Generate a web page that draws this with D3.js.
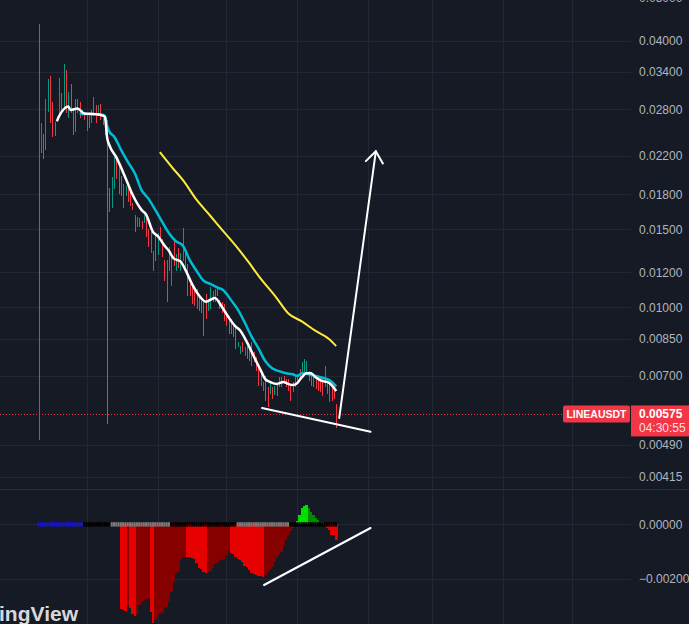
<!DOCTYPE html>
<html><head><meta charset="utf-8">
<script src="https://cdn.jsdelivr.net/npm/d3@7"></script>
<style>html,body{margin:0;padding:0;background:#161a25;overflow:hidden}</style>
</head><body><svg id="c" width="689" height="624"></svg>
<script>
// ---- DATA (daily candles, index 0 = first bar) ----
const open=[0.0227,0.0227,0.0243,0.0233,0.0282,0.0313,0.0276,0.0260,0.0264,0.0271,
0.0300,0.0286,0.0324,0.0276,0.0300,0.0276,0.0254,0.0288,0.0282,0.0271,
0.0275,0.0272,0.0260,0.0265,0.0273,0.0282,0.0272,0.0282,0.0262,0.0260,
0.0247,0.0182,0.0171,0.0189,0.0210,0.0202,0.0195,0.0185,0.0180,0.0185,
0.0180,0.0171,0.0161,0.0154,0.0153,0.0156,0.0156,0.0160,0.0148,0.0135,
0.0133,0.0142,0.0132,0.0150,0.0142,0.0127,0.0125,0.0122,0.0116,0.0139,
0.0122,0.0135,0.0123,0.0130,0.0133,0.0123,0.0112,0.0110,0.0110,0.0108,
0.0106,0.0103,0.0102,0.0106,0.0099,0.0101,0.0104,0.0104,0.0111,0.0104,
0.0103,0.0101,0.00970,0.00950,0.00930,0.00901,0.00890,0.00817,0.00788,0.00826,
0.00780,0.00809,0.00805,0.00796,0.00788,0.00764,0.00737,0.00707,0.00654,0.00689,
0.00654,0.00644,0.00658,0.00638,0.00664,0.00664,0.00668,0.00696,0.00682,0.00682,
0.00661,0.00672,0.00664,0.00679,0.00722,0.00722,0.00725,0.00718,0.00714,0.00707,
0.00700,0.00692,0.00689,0.00689,0.00682,0.00668,0.00679,0.00638,0.00658,0.00648,
0.00602];
const high=[0.0436,0.0261,0.0246,0.0295,0.0327,0.0333,0.0291,0.0262,0.0271,0.0329,
0.0305,0.0355,0.0343,0.0307,0.0320,0.0279,0.0295,0.0296,0.0291,0.0279,
0.0276,0.0275,0.0275,0.0279,0.0298,0.0286,0.0286,0.0288,0.0268,0.0262,
0.0265,0.0186,0.0197,0.0218,0.0216,0.0207,0.0198,0.0190,0.0188,0.0186,
0.0185,0.0172,0.0162,0.0160,0.0159,0.0157,0.0162,0.0162,0.0150,0.0148,
0.0134,0.0146,0.0147,0.0152,0.0143,0.0128,0.0128,0.0137,0.0133,0.0141,
0.0132,0.0136,0.0133,0.0151,0.0134,0.0125,0.0113,0.0111,0.0111,0.0110,
0.0107,0.0104,0.0103,0.0107,0.0104,0.0111,0.0109,0.0110,0.0112,0.0104,
0.0103,0.0102,0.00975,0.00955,0.00940,0.00906,0.00906,0.00835,0.00817,0.00835,
0.00813,0.00817,0.00813,0.00835,0.00792,0.00772,0.00744,0.00714,0.00679,0.00700,
0.00661,0.00679,0.00661,0.00664,0.00672,0.00696,0.00696,0.00700,0.00689,0.00689,
0.00672,0.00679,0.00696,0.00707,0.00725,0.00752,0.00764,0.00757,0.00718,0.00714,
0.00707,0.00700,0.00696,0.00696,0.00689,0.00737,0.00682,0.00679,0.00664,0.00654,
0.00605];
const low=[0.00502,0.0223,0.0216,0.0226,0.0276,0.0261,0.0243,0.0244,0.0262,0.0267,
0.0274,0.0282,0.0275,0.0267,0.0275,0.0245,0.0249,0.0275,0.0268,0.0270,
0.0265,0.0250,0.0254,0.0261,0.0270,0.0261,0.0270,0.0265,0.0258,0.0245,
0.00545,0.0164,0.0168,0.0185,0.0195,0.0180,0.0178,0.0168,0.0178,0.0173,
0.0169,0.0166,0.0148,0.0152,0.0152,0.0150,0.0155,0.0144,0.0137,0.0133,
0.0121,0.0127,0.0131,0.0141,0.0130,0.0115,0.0103,0.0121,0.0112,0.0124,
0.0121,0.0123,0.0121,0.0127,0.0121,0.0106,0.0106,0.0102,0.0101,0.0099,
0.0098,0.0097,0.0086,0.0094,0.0098,0.0099,0.0103,0.0103,0.0106,0.0099,
0.0097,0.00930,0.00906,0.00873,0.00873,0.00856,0.00805,0.00813,0.00784,0.00792,
0.00776,0.00764,0.00757,0.00737,0.00752,0.00718,0.00664,0.00664,0.00648,0.00615,
0.00595,0.00638,0.00621,0.00634,0.00631,0.00661,0.00661,0.00672,0.00661,0.00648,
0.00615,0.00644,0.00661,0.00672,0.00696,0.00714,0.00714,0.00707,0.00682,0.00664,
0.00661,0.00654,0.00648,0.00644,0.00631,0.00661,0.00638,0.00612,0.00615,0.00621,
0.00534];
const close=[0.0258,0.0254,0.0220,0.0286,0.0310,0.0268,0.0249,0.0246,0.0270,0.0302,
0.0276,0.0327,0.0282,0.0297,0.0279,0.0252,0.0286,0.0276,0.0271,0.0276,
0.0268,0.0258,0.0271,0.0273,0.0282,0.0265,0.0279,0.0268,0.0267,0.0247,
0.0175,0.0168,0.0192,0.0210,0.0196,0.0185,0.0181,0.0171,0.0185,0.0175,
0.0171,0.0167,0.0150,0.0159,0.0158,0.0152,0.0160,0.0146,0.0139,0.0145,
0.0122,0.0130,0.0143,0.0142,0.0132,0.0116,0.0110,0.0134,0.0130,0.0127,
0.0130,0.0125,0.0131,0.0142,0.0122,0.0108,0.0107,0.0103,0.0102,0.0101,
0.0099,0.0098,0.0094,0.0096,0.0103,0.0109,0.0107,0.0108,0.0106,0.0100,
0.0098,0.0094,0.00915,0.00884,0.00880,0.00864,0.00822,0.00830,0.00809,0.00800,
0.00805,0.00772,0.00764,0.00752,0.00757,0.00725,0.00675,0.00672,0.00672,0.00628,
0.00621,0.00664,0.00631,0.00658,0.00641,0.00686,0.00689,0.00675,0.00664,0.00654,
0.00628,0.00651,0.00686,0.00700,0.00700,0.00741,0.00748,0.00741,0.00689,0.00675,
0.00668,0.00661,0.00654,0.00651,0.00641,0.00689,0.00648,0.00661,0.00624,0.00628,
0.00575];

// moving averages: [bar index, value]
const maFast=[[8,0.0263],[9,0.0270],[11,0.0280],[13,0.0284],[14,0.0279],[17,0.0281],[20,0.0274],[25,0.0273],[28,0.0271],[29,0.0269],[30,0.0241],[31,0.0232],[34,0.0218],[38,0.0196],[41,0.0180],[45,0.0166],[47,0.0162],[50,0.0148],[52,0.0145],[55,0.0138],[57,0.0134],[59,0.0129],[62,0.0127],[64,0.0122],[67,0.0113],[71,0.0105],[73,0.0103],[77,0.0105],[80,0.01005],[83,0.0095],[86,0.00906],[88,0.00888],[91,0.00835],[93,0.00796],[95,0.00757],[97,0.00722],[99,0.00689],[101,0.00679],[104,0.00672],[107,0.00679],[109,0.00672],[111,0.00668],[113,0.00675],[115,0.00696],[117,0.00710],[119,0.00710],[121,0.00696],[124,0.00682],[126,0.00679],[128,0.00668],[130,0.00648]];
const maSlow=[[18,0.0274],[22,0.0273],[28,0.0272],[29,0.0270],[30,0.0257],[31,0.0249],[33,0.0243],[36,0.0227],[39,0.0213],[42,0.0201],[45,0.0184],[48,0.0176],[51,0.0166],[54,0.0156],[57,0.0147],[60,0.0141],[63,0.0138],[66,0.0128],[69,0.0121],[72,0.0115],[75,0.0113],[78,0.0111],[81,0.0109],[84,0.0104],[87,0.0099],[90,0.00926],[93,0.0086],[96,0.00809],[99,0.00757],[102,0.00729],[105,0.00718],[108,0.00710],[111,0.00707],[113,0.00700],[115,0.00710],[118,0.00707],[121,0.00700],[124,0.00694],[127,0.00686],[130,0.00664]];
const maLong=[[53,0.0224],[59,0.0205],[63,0.0194],[69,0.0175],[75,0.0161],[80,0.0150],[86,0.0138],[92,0.0126],[96,0.0118],[104,0.0105],[109,0.0097],[115,0.0093],[121,0.00885],[127,0.00848],[130,0.00818]];

// squeeze momentum histogram, starting at bar momStart
const momStart=36;
const momentum=[-0.00310,-0.00314,-0.00316,-0.00299,-0.00306,-0.00330,-0.00334,-0.00332,-0.00295,-0.00283,
-0.00280,-0.00272,-0.00268,-0.00320,-0.00361,-0.00350,-0.00332,-0.00330,-0.00326,-0.00308,
-0.00304,-0.00281,-0.00247,-0.00211,-0.00180,-0.00176,-0.00130,-0.00120,-0.00118,-0.00119,
-0.00121,-0.00124,-0.00126,-0.00143,-0.00158,-0.00163,-0.00173,-0.00177,-0.00176,-0.00171,
-0.00159,-0.00145,-0.00141,-0.00131,-0.00129,-0.00127,-0.00112,-0.00097,-0.00104,-0.00108,
-0.00118,-0.00125,-0.00129,-0.00137,-0.00152,-0.00157,-0.00167,-0.00177,-0.00181,-0.00185,
-0.00189,-0.00190,-0.00192,-0.00185,-0.00176,-0.00167,-0.00155,-0.00137,-0.00122,-0.00112,
-0.00100,-0.00076,-0.00057,-0.00039,-0.00024,-0.00014,0.00005,0.00013,0.00034,0.00059,
0.00069,0.00071,0.00061,0.00047,0.00034,0.00022,0.00016,0.00010,0.00007,-0.00002,
-0.00014,-0.00021,-0.00039,-0.00040,-0.00057];
// squeeze state segments: [state, first bar, last bar]
const squeeze=[["none",0,19],["on",20,31],["off",32,57],["on",58,86],["off",87,109],["on",110,130]];

const priceTicks=[0.05,0.04,0.034,0.028,0.022,0.018,0.015,0.012,0.010,0.0085,0.007,0.0049,0.00415];
const momTicks=[0,-0.002];
const monthStarts=[21,52,82,113,144,172,203,233];
const lastPrice=0.00575, symbol="LINEAUSDT", countdown="04:30:55";
// user drawings in (bar index, value)
const trendTop=[[97.6,0.00593],[145,0.00524]];
const arrowPts=[[131.3,0.00563],[147.3,0.0225]];
const trendBottom=[[98.5,-0.00222],[145,-0.000132]];

(function(){
const W=689,H=624,plotR=631,sepY=489;
const svg=d3.select("#c");
svg.append("rect").attr("width",W).attr("height",H).attr("fill","#161a25");
const x=d3.scaleLinear().domain([0,233]).range([38.5,572.1]);
const y=d3.scaleLog().domain([0.04,0.00415]).range([40.6,476.7]);
const ym=d3.scaleLinear().domain([0,-0.002]).range([524.4,579]);
const defs=svg.append("defs");
defs.append("clipPath").attr("id","ct").append("rect").attr("x",0).attr("y",0).attr("width",plotR).attr("height",sepY);
defs.append("clipPath").attr("id","cb").append("rect").attr("x",0).attr("y",sepY+1).attr("width",plotR).attr("height",H-sepY);
const snap=v=>Math.round(v)+0.5;
const gridC="#232734";
svg.append("g").selectAll("line").data(monthStarts).join("line")
 .attr("x1",d=>snap(x(d))).attr("x2",d=>snap(x(d))).attr("y1",0).attr("y2",H)
 .attr("stroke",gridC).attr("stroke-width",1);
svg.append("g").attr("clip-path","url(#ct)").selectAll("line").data(priceTicks).join("line")
 .attr("x1",0).attr("x2",plotR).attr("y1",d=>snap(y(d))).attr("y2",d=>snap(y(d)))
 .attr("stroke",gridC);
svg.append("g").attr("clip-path","url(#cb)").selectAll("line").data(momTicks).join("line")
 .attr("x1",0).attr("x2",plotR).attr("y1",d=>snap(ym(d))).attr("y2",d=>snap(ym(d)))
 .attr("stroke",gridC);
svg.append("line").attr("x1",0).attr("x2",W).attr("y1",sepY+0.5).attr("y2",sepY+0.5).attr("stroke","#2a2e39");

const up="#089981", dn="#f23645";
const topG=svg.append("g").attr("clip-path","url(#ct)");
const cg=topG.append("g").attr("shape-rendering","crispEdges");
close.forEach((c,i)=>{
  const col=c>=open[i]?up:dn, xx=Math.round(x(i));
  const yh=Math.round(y(high[i])), yl=Math.round(y(low[i]));
  cg.append("rect").attr("x",xx).attr("y",yh).attr("width",1).attr("height",Math.max(1,yl-yh)).attr("fill",col);
  const y0=Math.round(Math.min(y(open[i]),y(close[i]))), y1=Math.round(Math.max(y(open[i]),y(close[i])));
  cg.append("rect").attr("x",xx).attr("y",y0).attr("width",1).attr("height",Math.max(1,y1-y0)).attr("fill",col);
});
const ln=d3.line().x(d=>x(d[0])).y(d=>y(d[1])).curve(d3.curveMonotoneX);
topG.append("path").attr("d",ln(maLong)).attr("fill","none").attr("stroke","#ffeb3b").attr("stroke-width",2);
topG.append("path").attr("d",ln(maSlow)).attr("fill","none").attr("stroke","#00bcd4").attr("stroke-width",2.5);
topG.append("path").attr("d",ln(maFast)).attr("fill","none").attr("stroke","#ffffff").attr("stroke-width",2.5);
topG.append("line").attr("x1",0).attr("x2",563).attr("y1",snap(y(lastPrice))).attr("y2",snap(y(lastPrice)))
 .attr("stroke",dn).attr("stroke-width",1).attr("stroke-dasharray","1,2");
const wl=(g,pts,sc)=>g.append("line").attr("x1",x(pts[0][0])).attr("y1",sc(pts[0][1])).attr("x2",x(pts[1][0])).attr("y2",sc(pts[1][1]))
 .attr("stroke","#ffffff").attr("stroke-width",2).attr("stroke-linecap","round");
wl(topG,trendTop,y);
wl(topG,arrowPts,y);
{
 const sx=x(arrowPts[0][0]), sy=y(arrowPts[0][1]), tx=x(arrowPts[1][0]), ty=y(arrowPts[1][1]);
 const L=Math.hypot(sx-tx,sy-ty), ux=(sx-tx)/L, uy=(sy-ty)/L, a=38*Math.PI/180, len=14;
 [a,-a].forEach(t=>{
   const vx=ux*Math.cos(t)-uy*Math.sin(t), vy=ux*Math.sin(t)+uy*Math.cos(t);
   topG.append("line").attr("x1",tx).attr("y1",ty).attr("x2",tx+vx*len).attr("y2",ty+vy*len)
     .attr("stroke","#fff").attr("stroke-width",2).attr("stroke-linecap","round");
 });
}

const bot=svg.append("g").attr("clip-path","url(#cb)");
const bw=x(1)-x(0);
const hg=bot.append("g").attr("shape-rendering","crispEdges");
momentum.forEach((v,k)=>{
  const i=momStart+k, prev=k>0?momentum[k-1]:0;
  let col;
  if(v>=0) col = v>prev ? "#00e000" : "#008a00";
  else col = v<prev ? "#e60000" : "#870000";
  const y0=Math.min(ym(0),ym(v)), h=Math.abs(ym(v)-ym(0));
  hg.append("rect").attr("x",x(i)-bw/2).attr("y",y0).attr("width",bw+0.3).attr("height",Math.max(h,0.8)).attr("fill",col);
});
const sqCol={none:"#1616c8",on:"#000000",off:"#7a7a7a"};
squeeze.forEach(([s,a,b])=>{
  for(let i=a;i<=b;i++){
    bot.append("rect").attr("x",x(i)-bw/2).attr("y",ym(0)-2.2).attr("width",bw-0.2).attr("height",4.4).attr("fill",sqCol[s]);
  }
});
wl(bot,trendBottom,ym);

const fmt=d3.format(".5f");
const axT=d3.axisRight(y).tickValues(priceTicks).tickFormat(fmt).tickSize(0).tickPadding(8);
const gT=svg.append("g").attr("transform",`translate(${plotR},0)`).call(axT);
const axB=d3.axisRight(ym).tickValues(momTicks).tickFormat(fmt).tickSize(0).tickPadding(8);
const gB=svg.append("g").attr("transform",`translate(${plotR},0)`).call(axB);
[gT,gB].forEach(g=>{g.select(".domain").remove();
  g.selectAll("text").attr("fill","#b2b5be").style("font-family",'"Liberation Sans", Arial, sans-serif').style("font-size","12px");});

const py=y(lastPrice);
svg.append("rect").attr("x",563).attr("y",py-8.5).attr("width",67).attr("height",17).attr("rx",2).attr("fill",dn);
svg.append("text").attr("x",596.5).attr("y",py).attr("dy","0.35em").attr("text-anchor","middle")
 .attr("fill","#fff").style("font",'bold 10.5px "Liberation Sans", Arial, sans-serif').text(symbol);
svg.append("rect").attr("x",plotR).attr("y",py-8.5).attr("width",W-plotR).attr("height",31).attr("fill",dn);
svg.append("text").attr("x",639).attr("y",py).attr("dy","0.35em").attr("fill","#fff")
 .style("font",'bold 12px "Liberation Sans", Arial, sans-serif').text(fmt(lastPrice));
svg.append("text").attr("x",639).attr("y",py+14).attr("dy","0.35em").attr("fill","rgba(255,255,255,0.85)")
 .style("font",'12px "Liberation Sans", Arial, sans-serif').text(countdown);

svg.append("text").attr("x",78).attr("y",621).attr("text-anchor","end").attr("fill","#d6d8de")
 .style("font",'bold 21px "Liberation Sans", Arial, sans-serif').text("TradingView");
})();
</script></body></html>
